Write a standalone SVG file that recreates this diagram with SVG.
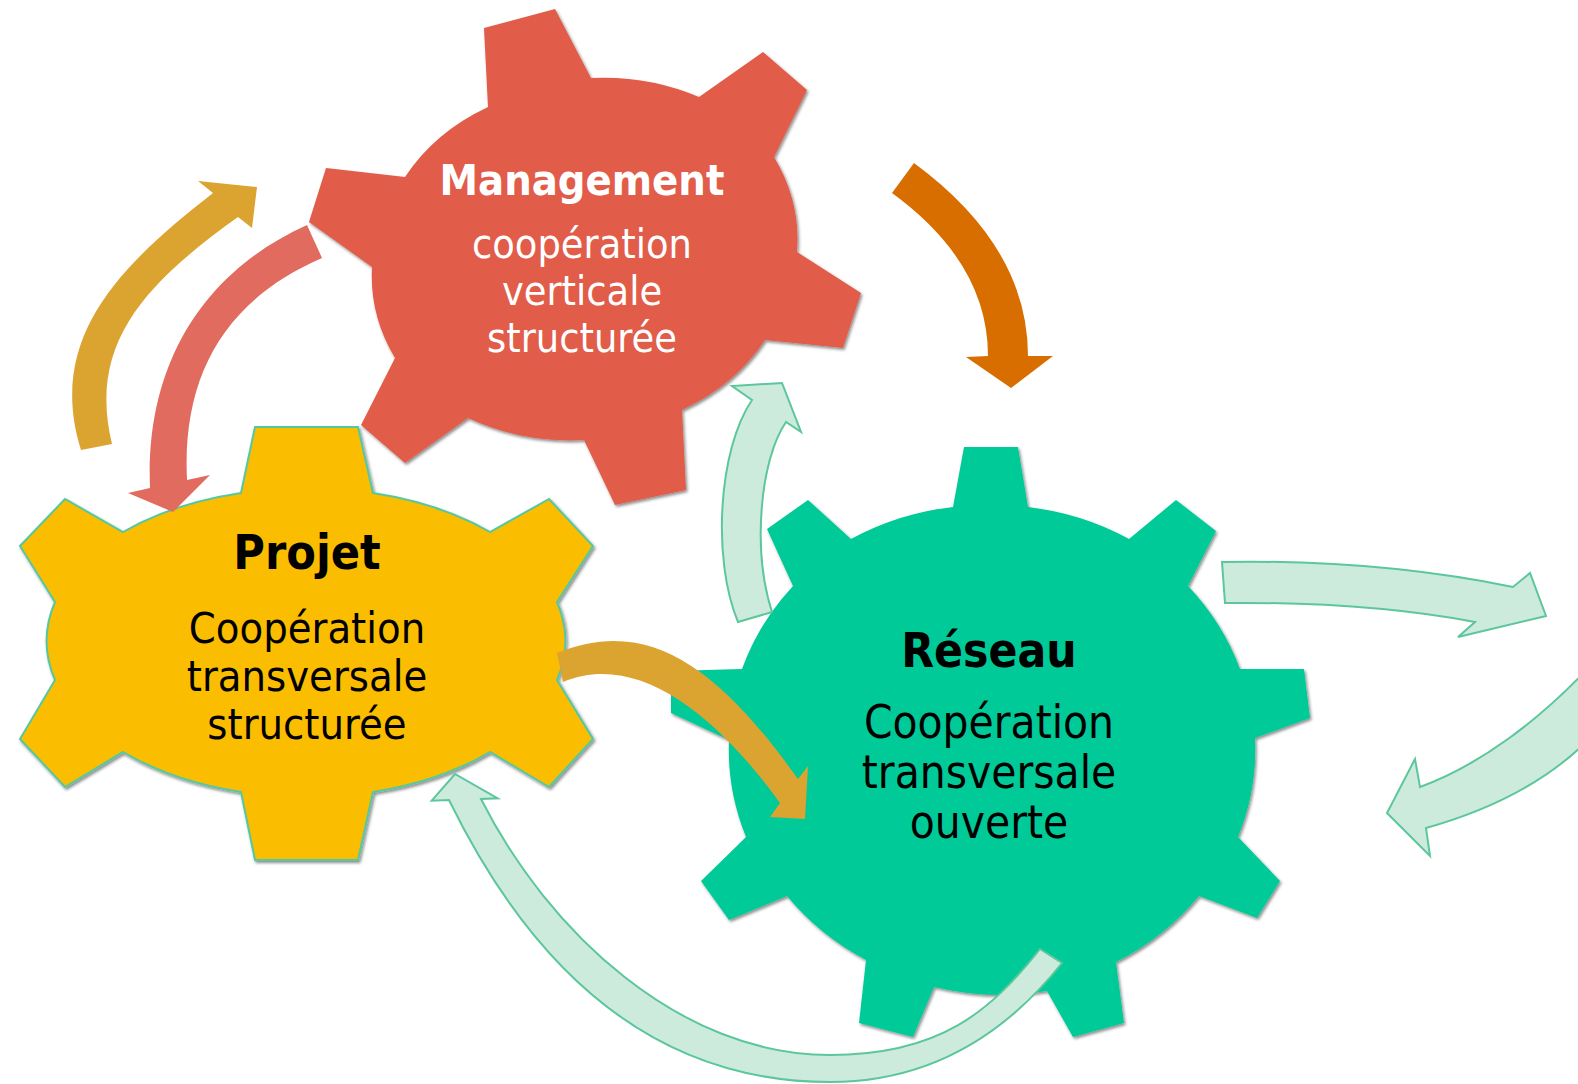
<svg xmlns="http://www.w3.org/2000/svg" width="1578" height="1084" viewBox="0 0 1578 1084">
<defs>
<filter id="sh" x="-5%" y="-5%" width="115%" height="115%">
<feDropShadow dx="1.5" dy="2" stdDeviation="1.5" flood-color="#000" flood-opacity="0.45"/>
</filter>
<style>
.t { font-family: 'DejaVu Sans Condensed','DejaVu Sans',sans-serif; text-anchor: middle; }
.b { font-weight: bold; }
.w { fill: #ffffff; }
.k { fill: #000000; }
.lg { fill: #CDEBDD; stroke: #5CC69C; stroke-width: 2; stroke-linejoin: miter; }
.gold { fill: #DBA32F; }
</style>
</defs>
<rect width="1578" height="1084" fill="#ffffff"/>

<g id="management">
<path filter="url(#sh)" fill="#E15B48" d="M 488,107 L 484,28 L 555,9 L 591,78 A 213 181 0 0 1 699,97 L 763,52 L 807,90 L 774,157 A 213 181 0 0 1 797,252 L 861,293 L 843,348 L 765,340 A 213 181 0 0 1 682,410 L 686,490 L 615,505 L 584,440 A 213 181 0 0 1 468,418 L 405,463 L 361,425 L 395,358 A 213 181 0 0 1 372,267 L 309,222 L 326,168 L 405,177 A 213 181 0 0 1 488,107 Z"/>
<text class="t b w" x="582" y="195" font-size="43">Management</text>
<text class="t w" x="582" y="258" font-size="41">coopération</text>
<text class="t w" x="582" y="305" font-size="41">verticale</text>
<text class="t w" x="582" y="352" font-size="41">structurée</text>
</g>

<g id="projet">
<path filter="url(#sh)" fill="#FBBD00" stroke="#55C7A2" stroke-width="2" d="M 241,493 L 255,427 L 358,427 L 373,493 A 262 156 0 0 1 490,532 L 549,499 L 593,546 L 557,602 A 262 156 0 0 1 557,680 L 593,739 L 549,787 L 490,752 A 262 156 0 0 1 373,792 L 358,860 L 255,860 L 241,792 A 262 156 0 0 1 123,752 L 65,787 L 20,739 L 55,680 A 262 156 0 0 1 55,602 L 20,546 L 65,499 L 123,532 A 262 156 0 0 1 241,493 Z"/>
<text class="t b k" x="307" y="569" font-size="48">Projet</text>
<text class="t k" x="307" y="643" font-size="43">Coopération</text>
<text class="t k" x="307" y="691" font-size="43">transversale</text>
<text class="t k" x="307" y="739" font-size="43">structurée</text>
</g>

<g id="reseau">
<path filter="url(#sh)" fill="#00CA98" d="M 953,507 L 964,447 L 1018,447 L 1028,507 A 264 246 0 0 1 1129,539 L 1176,500 L 1216,531 L 1188,586 A 264 246 0 0 1 1240,669 L 1304,669 L 1310,718 L 1255,738 A 264 246 0 0 1 1238,837 L 1280,881 L 1257,918 L 1199,896 A 264 246 0 0 1 1116,962 L 1124,1023 L 1073,1037 L 1047,991 A 264 246 0 0 1 934,987 L 913,1037 L 859,1023 L 866,960 A 264 246 0 0 1 787,896 L 729,920 L 701,881 L 746,837 A 264 246 0 0 1 729,740 L 671,713 L 671,671 L 742,669 A 264 246 0 0 1 793,586 L 767,529 L 808,500 L 851,539 A 264 246 0 0 1 953,507 Z"/>
<text class="t b k" x="989" y="667" font-size="47.5">Réseau</text>
<text class="t k" x="989" y="738" font-size="45.5">Coopération</text>
<text class="t k" x="989" y="788" font-size="45.5">transversale</text>
<text class="t k" x="989" y="838" font-size="45.5">ouverte</text>
</g>

<g id="connectors">
<!-- Management -> Réseau -->
<path fill="#D86E00" d="M 914,163 Q 1028,247 1028,356 L 1053,356 L 1011,388 L 966,357 L 988,356 Q 988,263 892,193 Z"/>
<!-- Projet -> Management (gold) -->
<path class="gold" d="M 81,450 C 45,335 125,262 213,193 L 198,181 L 257,187 L 252,228 L 238,217 C 143,285 88,345 112,444 Z"/>
<!-- Management -> Projet (salmon) -->
<path fill="#E06B5E" d="M 307,225 C 207,270 145,360 150,488 L 128,493 L 173,512 L 210,475 L 187,480 C 182,375 225,300 322,258 Z"/>
<!-- Projet -> Réseau (gold) -->
<path class="gold" d="M 557,653 C 650,615 720,670 798,779 L 808,766 L 805,819 L 770,817 L 780,803 C 720,720 640,650 563,682 Z"/>
<!-- Réseau -> Management (light) -->
<path class="lg" d="M 738,622 C 712,560 718,450 752,400 L 732,386 L 782,383 L 801,432 L 786,422 C 760,460 752,550 772,612 Z"/>
<!-- Réseau -> right -->
<path class="lg" d="M 1222,562 C 1330,560 1430,570 1513,587 L 1530,573 L 1546,616 L 1458,637 L 1475,622 C 1400,608 1320,602 1225,603 Z"/>
<!-- right -> Réseau -->
<path class="lg" d="M 1592,664 C 1540,720 1480,765 1420,787 L 1415,759 L 1387,813 L 1430,856 L 1426,828 C 1490,810 1550,780 1592,736 Z"/>
<!-- Réseau -> Projet (bottom) -->
<path class="lg" d="M 1062,963 C 1012.4,1025.4 940,1082 830,1082 C 640,1082 523.8,953 449,800 L 431.7,800.7 L 455,774 L 497.7,798.3 L 481,799 C 548.5,932.5 680,1055 830,1055 C 940,1055 990.4,1011.4 1040,949 Z"/>
</g>
</svg>
